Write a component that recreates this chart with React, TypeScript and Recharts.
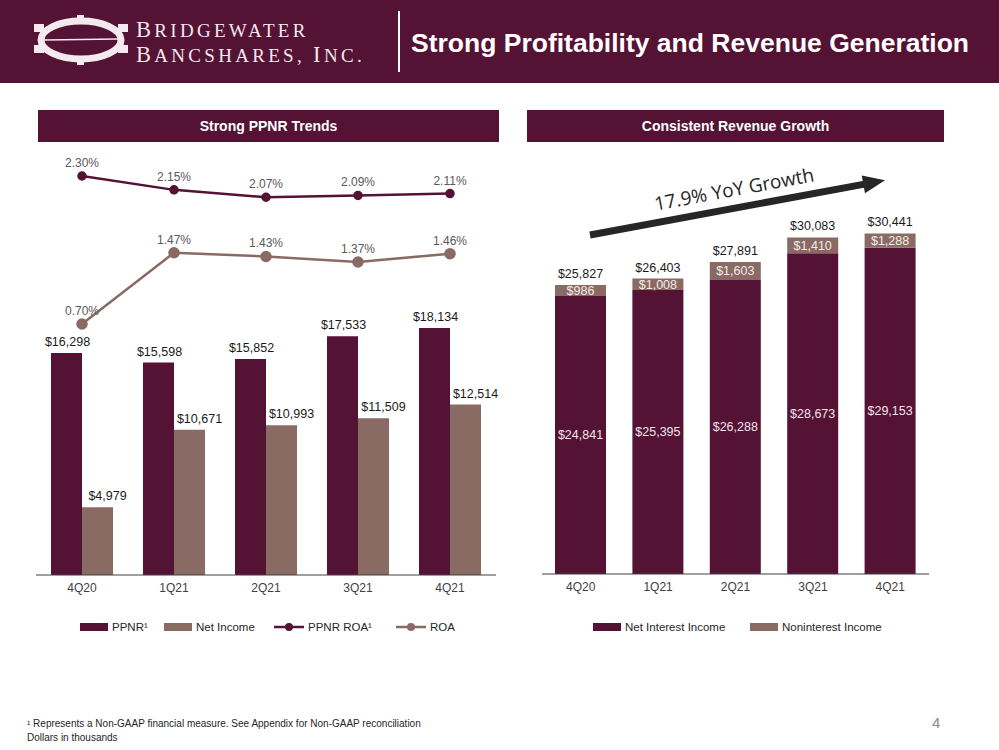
import React from 'react';
import { Bar, BarChart, ComposedChart, LabelList, Line, XAxis, YAxis } from 'recharts';

const quarters = ['4Q20', '1Q21', '2Q21', '3Q21', '4Q21'];
const ppnr = [16298, 15598, 15852, 17533, 18134];
const netIncome = [4979, 10671, 10993, 11509, 12514];
const ppnrRoa = [2.3, 2.15, 2.07, 2.09, 2.11];
const roa = [0.7, 1.47, 1.43, 1.37, 1.46];
const netInterestIncome = [24841, 25395, 26288, 28673, 29153];
const noninterestIncome = [986, 1008, 1603, 1410, 1288];
const totalRevenue = [25827, 26403, 27891, 30083, 30441];

const MAROON = '#541234';
const TAUPE = '#8a6b63';
const FONT = "'Liberation Sans', Arial, sans-serif";
const SERIF = "'Liberation Serif', 'DejaVu Serif', serif";

const profitData = quarters.map((q, i) => ({
  q,
  ppnr: ppnr[i],
  netIncome: netIncome[i],
  ppnrRoa: ppnrRoa[i],
  roa: roa[i],
}));

const revenueData = quarters.map((q, i) => ({
  q,
  nii: netInterestIncome[i],
  nonInt: noninterestIncome[i],
  total: totalRevenue[i],
}));

const usd = (v: any) => '$' + Number(v).toLocaleString('en-US');
const pct = (v: any) => Number(v).toFixed(2) + '%';

function SectionTitle({ left, width, text }: { left: number; width: number; text: string }) {
  return (
    <div
      style={{
        position: 'absolute', left, top: 110, width, height: 32, background: MAROON, color: '#fff',
        fontWeight: 'bold', fontSize: 14, display: 'flex', alignItems: 'center', justifyContent: 'center',
      }}
    >
      {text}
    </div>
  );
}

function LegendItem({ x, label, color, kind }: { x: number; label: string; color: string; kind: 'bar' | 'line' }) {
  return (
    <div style={{ position: 'absolute', left: x, top: 619, height: 16, display: 'flex', alignItems: 'center', fontSize: 11.5, color: '#262626' }}>
      {kind === 'bar' ? (
        <div style={{ width: 28, height: 8, background: color, marginRight: 4 }} />
      ) : (
        <svg width={30} height={10} style={{ marginRight: 4 }}>
          <line x1={0} y1={5} x2={30} y2={5} stroke={color} strokeWidth={2.5} />
          <circle cx={15} cy={5} r={4} fill={color} />
        </svg>
      )}
      <span>{label}</span>
    </div>
  );
}

function Logo() {
  const big = 22.5;
  const small = 19;
  return (
    <svg width={395} height={83} style={{ position: 'absolute', left: 0, top: 0 }}>
      <ellipse cx={81} cy={40} rx={40} ry={19} fill="none" stroke="#f3e9ee" strokeWidth={7} />
      <line x1={44} y1={40} x2={118} y2={39} stroke="#f3e9ee" strokeWidth={1.5} />
      <rect x={34} y={24} width={10} height={8} fill="#f3e9ee" />
      <rect x={34} y={45} width={10} height={8} fill="#f3e9ee" />
      <rect x={118} y={24} width={10} height={8} fill="#f3e9ee" />
      <rect x={118} y={45} width={10} height={8} fill="#f3e9ee" />
      <rect x={77} y={15} width={7} height={6} fill="#f3e9ee" />
      <rect x={77} y={59} width={7} height={6} fill="#f3e9ee" />
      <text x={136} y={37} fill="#f3e9ee" fontFamily={SERIF} letterSpacing={3.3}>
        <tspan fontSize={big}>B</tspan>
        <tspan fontSize={small}>RIDGEWATER</tspan>
      </text>
      <text x={136} y={62} fill="#f3e9ee" fontFamily={SERIF} letterSpacing={3.3}>
        <tspan fontSize={big}>B</tspan>
        <tspan fontSize={small}>ANCSHARES, </tspan>
        <tspan fontSize={big}>I</tspan>
        <tspan fontSize={small}>NC.</tspan>
      </text>
    </svg>
  );
}

export default function App() {
  return (
    <div style={{ position: 'absolute', left: 0, top: 0, width: 999, height: 750, background: '#fff', fontFamily: FONT, overflow: 'hidden' }}>
      <div style={{ position: 'absolute', left: 0, top: 0, width: 999, height: 83, background: MAROON }} />
      <Logo />
      <div style={{ position: 'absolute', left: 398, top: 11, width: 2, height: 61, background: '#fff' }} />
      <div style={{ position: 'absolute', left: 411, top: 28, color: '#fff', fontSize: 26.5, fontWeight: 'bold', whiteSpace: 'nowrap' }}>
        Strong Profitability and Revenue Generation
      </div>

      <SectionTitle left={38} width={461} text="Strong PPNR Trends" />
      <SectionTitle left={527} width={417} text="Consistent Revenue Growth" />

      <div style={{ position: 'absolute', left: 30, top: 140 }}>
        <ComposedChart width={480} height={510} data={profitData} margin={{ top: 10, right: 14, bottom: 45, left: 6 }} barGap={0} barSize={31}>
          <XAxis dataKey="q" axisLine={{ stroke: '#404040' }} tickLine={false} tick={{ fill: '#404040', fontSize: 12 }} />
          <YAxis yAxisId="amt" hide domain={[0, 31200]} allowDataOverflow />
          <YAxis yAxisId="pct" hide orientation="right" domain={[-2.014, 2.581]} allowDataOverflow />
          <Bar yAxisId="amt" dataKey="ppnr" fill={MAROON} isAnimationActive={false}>
            <LabelList dataKey="ppnr" position="top" offset={7} formatter={usd} fill="#1a1a1a" fontSize={12.5} dx={1} />
          </Bar>
          <Bar yAxisId="amt" dataKey="netIncome" fill={TAUPE} isAnimationActive={false}>
            <LabelList dataKey="netIncome" position="top" offset={7} formatter={usd} fill="#1a1a1a" fontSize={12.5} dx={10} />
          </Bar>
          <Line yAxisId="pct" dataKey="ppnrRoa" stroke={MAROON} strokeWidth={2.5} dot={{ r: 3.5, fill: MAROON, stroke: MAROON }} isAnimationActive={false}>
            <LabelList dataKey="ppnrRoa" position="top" offset={9} formatter={pct} fill="#595959" fontSize={12} />
          </Line>
          <Line yAxisId="pct" dataKey="roa" stroke={TAUPE} strokeWidth={2.5} dot={{ r: 4.5, fill: TAUPE, stroke: TAUPE }} isAnimationActive={false}>
            <LabelList dataKey="roa" position="top" offset={9} formatter={pct} fill="#595959" fontSize={12} />
          </Line>
        </ComposedChart>
      </div>

      <div style={{ position: 'absolute', left: 520, top: 140 }}>
        <BarChart width={440} height={510} data={revenueData} margin={{ top: 10, right: 31, bottom: 46, left: 22 }} barSize={51}>
          <XAxis dataKey="q" axisLine={{ stroke: '#404040' }} tickLine={false} tick={{ fill: '#404040', fontSize: 12 }} />
          <YAxis hide domain={[0, 37900]} allowDataOverflow />
          <Bar dataKey="nii" stackId="rev" fill={MAROON} isAnimationActive={false}>
            <LabelList dataKey="nii" position="center" formatter={usd} fill="#f1e3ea" fontSize={12.5} />
          </Bar>
          <Bar dataKey="nonInt" stackId="rev" fill={TAUPE} isAnimationActive={false}>
            <LabelList dataKey="nonInt" position="center" formatter={usd} fill="#f4eaea" fontSize={12.5} />
            <LabelList dataKey="total" position="top" offset={7} formatter={usd} fill="#1a1a1a" fontSize={12.5} />
          </Bar>
        </BarChart>
      </div>

      {/* growth arrow annotation */}
      <svg width={999} height={750} style={{ position: 'absolute', left: 0, top: 0, pointerEvents: 'none' }}>
        <g transform="translate(590,235) rotate(-10.5)">
          <rect x={0} y={-3.5} width={282} height={7} fill="#262626" />
          <polygon points="278,-9 300,0 278,9" fill="#262626" />
          <text x={150} y={-12} textAnchor="middle" fontSize={19} fill="#262626" fontFamily="'Open Sans', 'Liberation Sans', sans-serif">
            17.9% YoY Growth
          </text>
        </g>
      </svg>

      <LegendItem x={80} label="PPNR¹" color={MAROON} kind="bar" />
      <LegendItem x={164} label="Net Income" color={TAUPE} kind="bar" />
      <LegendItem x={274} label="PPNR ROA¹" color={MAROON} kind="line" />
      <LegendItem x={396} label="ROA" color={TAUPE} kind="line" />
      <LegendItem x={593} label="Net Interest Income" color={MAROON} kind="bar" />
      <LegendItem x={750} label="Noninterest Income" color={TAUPE} kind="bar" />

      <div style={{ position: 'absolute', left: 27, top: 717, fontSize: 10, lineHeight: '14px', color: '#262626', fontFamily: "'Liberation Sans Narrow', 'Liberation Sans', sans-serif" }}>
        <div>¹ Represents a Non-GAAP financial measure. See Appendix for Non-GAAP reconciliation</div>
        <div>Dollars in thousands</div>
      </div>
      <div style={{ position: 'absolute', left: 932, top: 714, fontSize: 15, color: '#8c8c8c' }}>4</div>
    </div>
  );
}
